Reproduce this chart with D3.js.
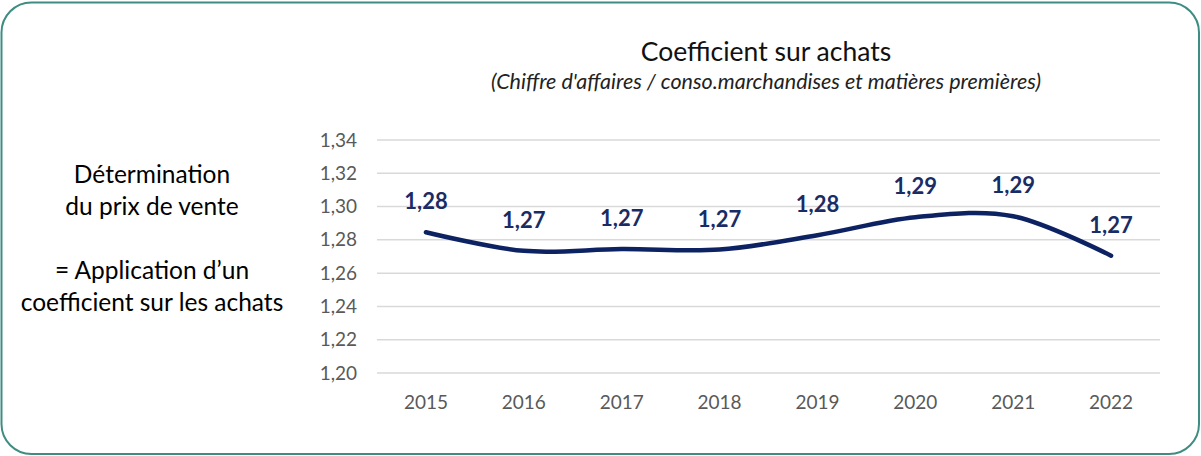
<!DOCTYPE html>
<html>
<head>
<meta charset="utf-8">
<script src="https://cdn.jsdelivr.net/npm/d3@7"></script>
<style>
  body { margin: 0; background: #fff; }
  svg { display: block; font-family: Lato, "Open Sans", sans-serif; }
  .grid line { stroke: #d9d9d9; stroke-width: 1.5px; }
  .tick-lbl { fill: #595959; font-size: 19px; }
  .val-lbl { fill: #1a2c66; font-size: 22px; font-weight: bold; }
  .side { fill: #000; font-size: 24.5px; }
</style>
</head>
<body>
<div id="chart"></div>
<script>
var years = ['2015', '2016', '2017', '2018', '2019', '2020', '2021', '2022'];
var coefs = [1.2846, 1.2734, 1.2745, 1.2742, 1.2828, 1.2936, 1.2942, 1.2705];
var yTicks = [1.20, 1.22, 1.24, 1.26, 1.28, 1.30, 1.32, 1.34];
var sideLines = ['Détermination', 'du prix de vente', '', '= Application d\u2019un', 'coefficient sur les achats'];

var W = 1201, H = 456;
var plot = { left: 377, right: 1160, top: 140, bottom: 373 };

var fmt = function(v) { return d3.format('.2f')(v).replace('.', ','); };

var xScale = d3.scalePoint()
  .domain(years)
  .range([plot.left, plot.right])
  .padding(0.5);

var yScale = d3.scaleLinear()
  .domain([1.20, 1.34])
  .range([plot.bottom, plot.top]);

var svg = d3.select('#chart')
  .append('svg')
  .attr('width', W)
  .attr('height', H);

// frame
svg.append('rect')
  .attr('x', 1.5)
  .attr('y', 2.5)
  .attr('width', W - 3.5)
  .attr('height', H - 4.5)
  .attr('rx', 30)
  .attr('ry', 30)
  .attr('fill', 'none')
  .attr('stroke', '#3f8d82')
  .attr('stroke-width', 2);

// titles
svg.append('text')
  .attr('x', 766)
  .attr('y', 61)
  .attr('text-anchor', 'middle')
  .style('font-size', '26.5px')
  .style('fill', '#111')
  .text('Coefficient sur achats');

svg.append('text')
  .attr('x', 766)
  .attr('y', 89)
  .attr('text-anchor', 'middle')
  .style('font-size', '21.5px')
  .style('font-style', 'italic')
  .style('fill', '#222')
  .text("(Chiffre d'affaires / conso.marchandises et matières premières)");

// left note
svg.selectAll('text.side')
  .data(sideLines)
  .enter()
  .append('text')
  .attr('class', 'side')
  .attr('x', 152)
  .attr('y', function(d, i) { return 183 + i * 32; })
  .attr('text-anchor', 'middle')
  .text(function(d) { return d; });

// grid + y labels
var grid = svg.append('g').attr('class', 'grid');
grid.selectAll('line')
  .data(yTicks)
  .enter()
  .append('line')
  .attr('x1', plot.left)
  .attr('x2', plot.right)
  .attr('y1', function(d) { return yScale(d); })
  .attr('y2', function(d) { return yScale(d); });

svg.selectAll('text.ylbl')
  .data(yTicks)
  .enter()
  .append('text')
  .attr('class', 'tick-lbl ylbl')
  .attr('x', 357)
  .attr('y', function(d) { return yScale(d) + 6.5; })
  .attr('text-anchor', 'end')
  .text(fmt);

svg.selectAll('text.xlbl')
  .data(years)
  .enter()
  .append('text')
  .attr('class', 'tick-lbl xlbl')
  .attr('x', function(d) { return xScale(d); })
  .attr('y', 409)
  .attr('text-anchor', 'middle')
  .text(function(d) { return d; });

// smoothed line
var line = d3.line()
  .curve(d3.curveCardinal.tension(0))
  .x(function(d, i) { return xScale(years[i]); })
  .y(function(d) { return yScale(d); });

svg.append('path')
  .datum(coefs)
  .attr('d', line)
  .attr('fill', 'none')
  .attr('stroke', '#0d2262')
  .attr('stroke-width', 4.5)
  .attr('stroke-linecap', 'round');

// value labels
svg.selectAll('text.val-lbl')
  .data(coefs)
  .enter()
  .append('text')
  .attr('class', 'val-lbl')
  .attr('x', function(d, i) { return xScale(years[i]); })
  .attr('y', function(d) { return yScale(d) - 23; })
  .attr('text-anchor', 'middle')
  .text(fmt);
</script>
</body>
</html>
